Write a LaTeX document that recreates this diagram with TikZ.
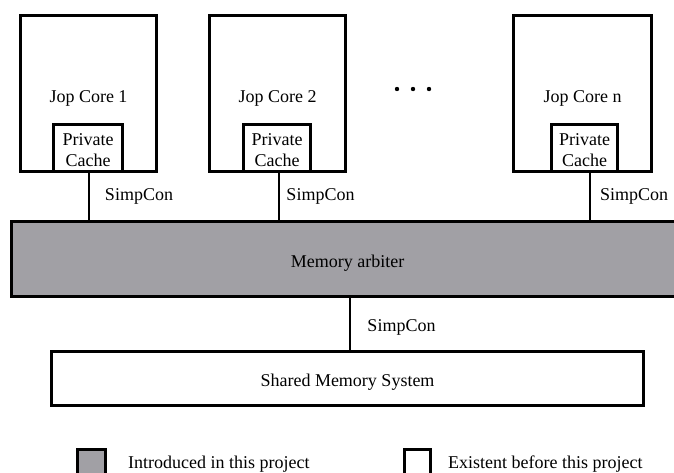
\documentclass[tikz,border=0pt]{standalone}
\usepackage{fontspec}
\setmainfont{Liberation Serif}
\definecolor{arbgray}{RGB}{161,160,165}
\begin{document}
\begin{tikzpicture}[x=1pt,y=-1pt,
  box/.style={draw=black, line width=3pt, inner sep=0pt, fill=white},
  lbl/.style={font=\fontsize{18}{20.5}\selectfont, inner sep=0pt, align=center},
  wire/.style={draw=black, line width=1.3pt},
  dot/.style={circle, fill=black, inner sep=0pt, minimum size=4.4pt}]
\useasboundingbox (0,0) rectangle (674,472);

% cores
\node[box, minimum width=136pt, minimum height=156pt] (core1) at (88.5,93.5) {};
\node[box, minimum width=136pt, minimum height=156pt] (core2) at (277.5,93.5) {};
\node[box, minimum width=138pt, minimum height=156pt] (coren) at (582.5,93.5) {};
\node[lbl, anchor=base] (t1) at (88.5,102) {Jop Core 1};
\node[lbl, anchor=base] (t2) at (277.5,102) {Jop Core 2};
\node[lbl, anchor=base] (tn) at (582.5,102) {Jop Core n};

% caches
\node[box, minimum width=69pt, minimum height=47pt] (cache1) at (88,148) {};
\node[box, minimum width=67pt, minimum height=47pt] (cache2) at (277,148) {};
\node[box, minimum width=66pt, minimum height=47pt] (cachen) at (584.5,148) {};
\node[lbl] (ct1) at (88,150) {Private\\Cache};
\node[lbl] (ct2) at (277,150) {Private\\Cache};
\node[lbl] (ctn) at (584.5,150) {Private\\Cache};

% dots
\node[dot] (d1) at (397,89) {};
\node[dot] (d2) at (413,89) {};
\node[dot] (d3) at (429,89) {};

% arbiter
\node[box, fill=arbgray, minimum width=670pt, minimum height=75pt] (arb) at (346.5,259) {};
\node[lbl, anchor=base] (arbt) at (347.5,267) {Memory arbiter};

% shared memory
\node[box, minimum width=592pt, minimum height=54pt] (shared) at (347.5,378.5) {};
\node[lbl, anchor=base] (sht) at (347.5,386) {Shared Memory System};

% wires
\draw[wire] ([xshift=1pt]cache1.south) -- ([xshift=1pt]cache1.south |- arb.north);
\draw[wire] ([xshift=2pt]cache2.south) -- ([xshift=2pt]cache2.south |- arb.north);
\draw[wire] ([xshift=5.5pt]cachen.south) -- ([xshift=5.5pt]cachen.south |- arb.north);
\draw[wire] ([xshift=2.5pt]shared.north) -- ([xshift=2.5pt]shared.north |- arb.south);

% SimpCon labels
\node[lbl, anchor=base] (s1) at (139,200) {SimpCon};
\node[lbl, anchor=base] (s2) at (320.5,200) {SimpCon};
\node[lbl, anchor=base] (sn) at (634,200) {SimpCon};
\node[lbl, anchor=base] (sb) at (401.5,331) {SimpCon};

% legend
\node[box, fill=arbgray, minimum width=28pt, minimum height=28pt] (lg1) at (91.5,463.5) {};
\node[lbl, anchor=base west] (lt1) at (128,468) {Introduced in this project};
\node[box, minimum width=26pt, minimum height=28pt] (lg2) at (417.5,463.5) {};
\node[lbl, anchor=base west] (lt2) at (448,468) {Existent before this project};
\end{tikzpicture}
\end{document}
